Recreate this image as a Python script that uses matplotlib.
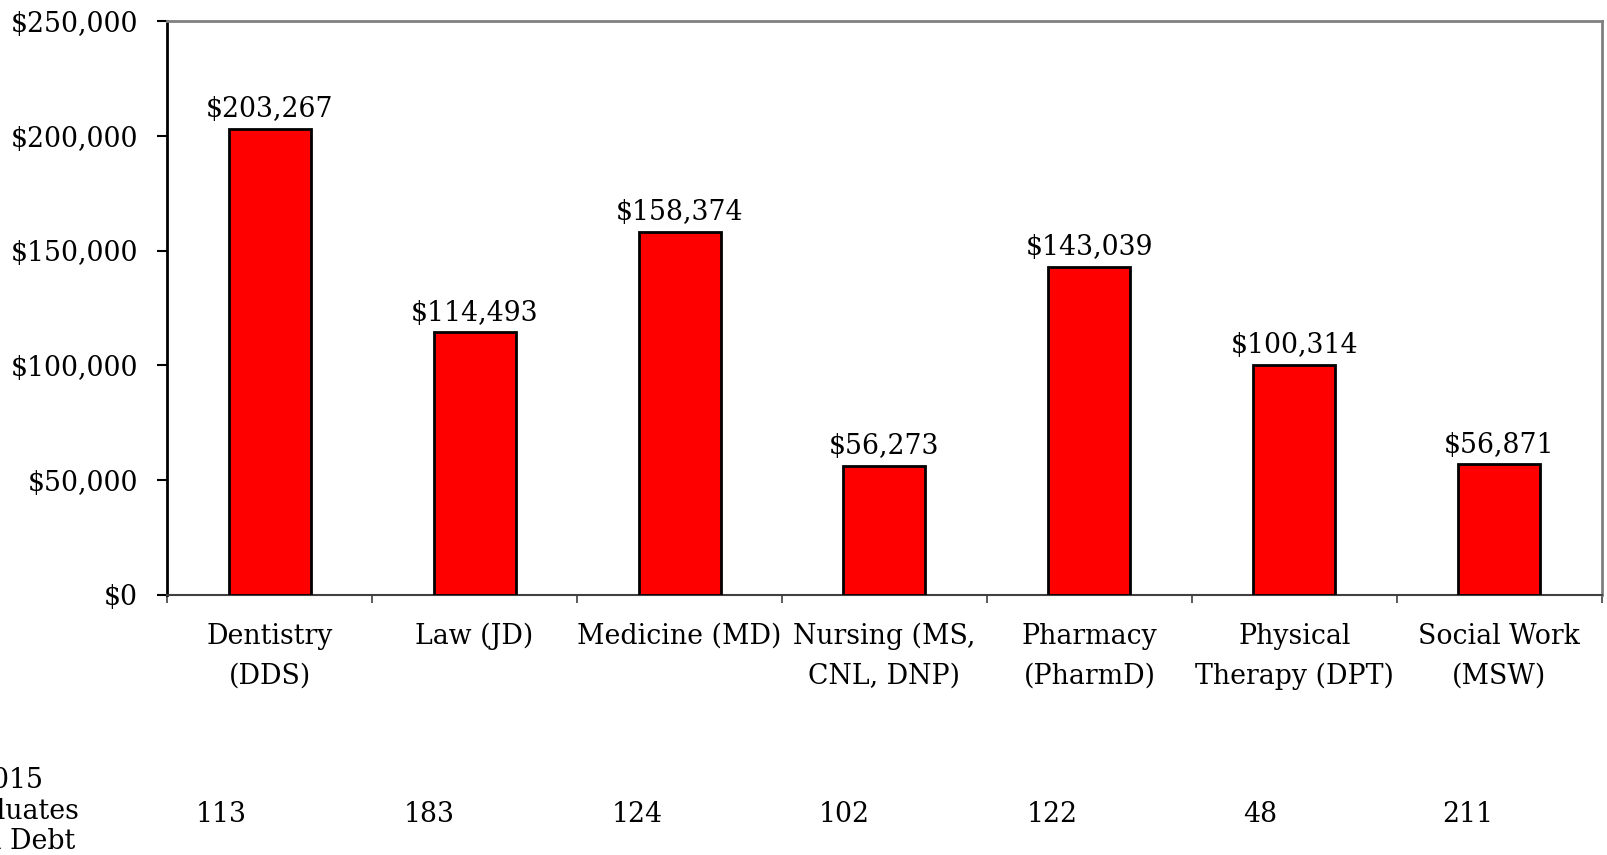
import numpy as np
import matplotlib.pyplot as plt
from matplotlib.ticker import FuncFormatter

# data
categories = ['Dentistry\n(DDS)', 'Law (JD)', 'Medicine (MD)', 'Nursing (MS,\nCNL, DNP)',
              'Pharmacy\n(PharmD)', 'Physical\nTherapy (DPT)', 'Social Work\n(MSW)']
median_debt = [203267, 114493, 158374, 56273, 143039, 100314, 56871]
grads_with_debt = [113, 183, 124, 102, 122, 48, 211]
row_label = '2015\nGraduates\nwith Debt'

plt.rcParams['font.family'] = ['DejaVu Serif']
fs = 19.3

fig = plt.figure(figsize=(16.08, 8.55), dpi=100)
ax = fig.add_axes([0.1039, 0.3043, 0.8923, 0.6706])

x = np.arange(len(categories))
bars = ax.bar(x, median_debt, width=0.4, color='#ff0000', edgecolor='black', linewidth=2, zorder=3)

for xi, v in zip(x, median_debt):
    ax.text(xi, v + 2300, f'${v:,}', ha='center', va='bottom', fontsize=fs)

ax.set_xlim(-0.5, len(categories) - 0.5)
ax.set_ylim(0, 250000)
ax.set_yticks(np.arange(0, 250001, 50000))
ax.yaxis.set_major_formatter(FuncFormatter(lambda v, p: f'${v:,.0f}'))
ax.tick_params(axis='y', labelsize=fs, length=7, width=1.5, direction='out', pad=14)

ax.set_xticks(x)
ax.set_xticklabels(categories, fontsize=fs, linespacing=1.6)
ax.set_xticks(np.arange(-0.5, len(categories), 1), minor=True)
ax.tick_params(axis='x', which='major', length=0, pad=20)
ax.tick_params(axis='x', which='minor', length=6, width=1.2, color='#404040', direction='out')

for s in ['top', 'right']:
    ax.spines[s].set_color('#808080')
    ax.spines[s].set_linewidth(2)
ax.spines['bottom'].set_color('#404040')
ax.spines['bottom'].set_linewidth(1.5)
ax.spines['left'].set_color('black')
ax.spines['left'].set_linewidth(2)

# table row under the chart
for i, n in enumerate(grads_with_debt):
    ax.text(i * 1.0133 - 0.235, -0.383, str(n), transform=ax.get_xaxis_transform(),
            ha='center', va='center', fontsize=fs)
fig.text(9 / 1608, 1 - 811 / 855, row_label, ha='center', va='center',
         fontsize=fs, linespacing=1.17)

fig.savefig('out.png', dpi=100)
